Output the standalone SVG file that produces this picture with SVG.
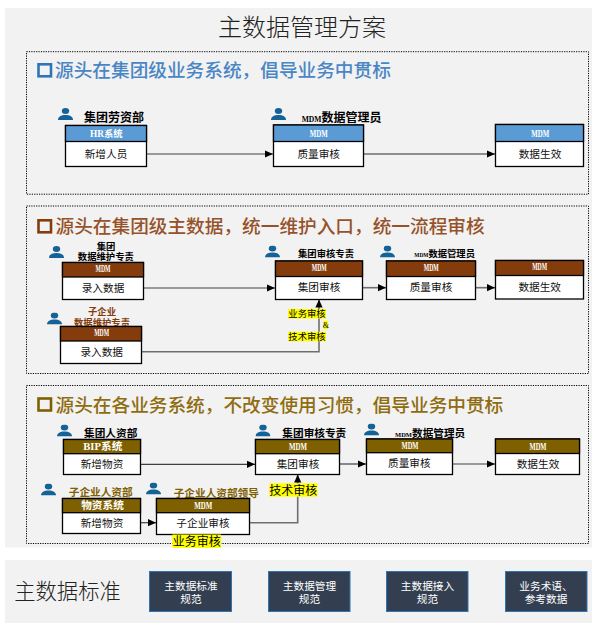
<svg xmlns="http://www.w3.org/2000/svg" width="596" height="631" viewBox="0 0 596 631">
<style>
text{font-family:"Liberation Serif","Noto Sans CJK SC",serif;text-anchor:middle}
.panel{fill:#f2f2f2}
.frame{fill:none;stroke:#000;stroke-width:1;stroke-dasharray:1.2 1.2}
.title{font-size:24px;fill:#222;font-weight:300}
.h{font-size:18.67px;font-weight:500;text-anchor:start}
.sq{fill:none;stroke-width:2.6}
.box{fill:#fff;stroke:#000;stroke-width:1.3}
.b{fill:#5b9bd5}.r{fill:#843c0c}.g{fill:#7f6000}
.hd{stroke:#000;stroke-width:1.3}
.ht{font-size:9.33px;font-weight:700;fill:#fff}
.ht2{font-size:10.67px;font-weight:700;fill:#fff}
.t{font-size:10.67px;fill:#111}
.l12{font-size:12px;font-weight:700;fill:#000}
.l10{font-size:10.67px;font-weight:700}
.l9{font-size:9.33px;font-weight:700}
.st{text-anchor:start}
.lk{fill:none;stroke:#404040;stroke-width:1.2;marker-end:url(#a)}
.lk2{fill:none;stroke:#6e6e6e;stroke-width:1.6;marker-end:url(#a)}
.y{fill:#ffff00}
.btn{fill:#333f50;stroke:#2e75b6;stroke-width:1}
.bt{font-size:10.67px;fill:#fff}
.p{fill:#156299}
</style>
<defs>
<marker id="a" markerUnits="userSpaceOnUse" markerWidth="8" markerHeight="8" refX="8" refY="4" orient="auto"><path d="M0 .4L8 4L0 7.6Z" fill="#000"/></marker>
<symbol id="person" viewBox="0 0 15 12" width="15" height="12"><ellipse cx="7.5" cy="3" rx="3.7" ry="3"/><path d="M0 12C0 8.5 3 7 7.5 7S15 8.5 15 12Z"/></symbol>
</defs>
<rect class="panel" x="5" y="8" width="587" height="539.500"/>
<rect class="panel" x="5" y="560" width="587" height="63"/>
<text class="title" x="302" y="36">主数据管理方案</text>
<g id="section1">
<rect class="frame" x="26.500" y="51.700" width="562" height="142.500"/>
<rect class="sq" x="38.500" y="64.300" width="12.500" height="12" stroke="#2e75b6"/>
<text class="h" x="55" y="76.500" fill="#4a86c5">源头在集团级业务系统，倡导业务中贯标</text>
</g>
<g id="section2">
<rect class="frame" x="26.500" y="206" width="562" height="167.500"/>
<rect class="sq" x="38.500" y="220.300" width="12.500" height="12" stroke="#843c0c"/>
<text class="h" x="55.500" y="233" fill="#96522a">源头在集团级主数据，统一维护入口，统一流程审核</text>
</g>
<g id="section3">
<rect class="frame" x="26.500" y="385.500" width="562" height="158"/>
<rect class="sq" x="38.500" y="398.500" width="12.500" height="12" stroke="#7f6000"/>
<text class="h" x="55.500" y="411.700" fill="#8f6c10">源头在各业务系统，不改变使用习惯，倡导业务中贯标</text>
</g>
<g id="connectors">
<path class="lk" d="M146.700 154H273"/>
<path class="lk2" d="M364 154H495"/>
<path class="lk" d="M143.700 288H275"/>
<path class="lk2" d="M141.700 351.700H319V299.500"/>
<path class="lk2" d="M362.700 287.700H386"/>
<path class="lk2" d="M475.700 287.700H495"/>
<path class="lk" d="M140.300 464.300H255"/>
<path class="lk" d="M140.700 522.700H156"/>
<path class="lk2" d="M249.700 522.700H297.700V474.500"/>
<path class="lk" d="M339.700 464H366"/>
<path class="lk" d="M452.700 464H495"/>
</g>
<g id="persons" class="p">
<use href="#person" x="58" y="108"/><use href="#person" x="271" y="108"/>
<use href="#person" x="49" y="246"/><use href="#person" x="47" y="312.500"/><use href="#person" x="265" y="245.500"/><use href="#person" x="380" y="245.500"/>
<use href="#person" x="57" y="424.500"/><use href="#person" x="255.500" y="424.500"/><use href="#person" x="364" y="423.500"/><use href="#person" x="41" y="483.500"/><use href="#person" x="146" y="482.500"/>
</g>
<g id="n-hr">
<text class="l12" x="114" y="121.500">集团劳资部</text>
<rect class="box" x="65.500" y="125.500" width="81" height="41"/><rect class="b hd" x="65.500" y="125.500" width="81" height="16"/>
<text class="ht" x="106.300" y="137">HR系统</text><text class="t" x="106" y="158">新增人员</text>
</g>
<g id="n-q1">
<text class="l12 st" x="301.700" y="121.500"><tspan font-size="7.600">MDM</tspan>数据管理员</text>
<rect class="box" x="273.500" y="125" width="90" height="41.500"/><rect class="b hd" x="273.500" y="125" width="90" height="16.500"/>
<text class="ht" x="318.700" y="137" textLength="18" lengthAdjust="spacingAndGlyphs">MDM</text><text class="t" x="318.700" y="158">质量审核</text>
</g>
<g id="n-e1">
<rect class="box" x="495.500" y="124.500" width="88" height="42"/><rect class="b hd" x="495.500" y="124.500" width="88" height="17"/>
<text class="ht" x="540.300" y="137" textLength="18" lengthAdjust="spacingAndGlyphs">MDM</text><text class="t" x="540" y="158">数据生效</text>
</g>
<g id="n-a2">
<text class="l9" x="106" y="249.500">集团</text><text class="l9" x="105.800" y="260">数据维护专责</text>
<rect class="box" x="62.500" y="262.500" width="81" height="37"/><rect class="r hd" x="62.500" y="262.500" width="81" height="14.500"/>
<text class="ht" x="103" y="271.500" textLength="15" lengthAdjust="spacingAndGlyphs">MDM</text><text class="t" x="103" y="292">录入数据</text>
</g>
<g id="n-b2">
<text class="l9" x="102" y="315" fill="#843c0c">子企业</text><text class="l9" x="102" y="325.700" fill="#843c0c">数据维护专责</text>
<rect class="box" x="60.500" y="326.500" width="81" height="37"/><rect class="r hd" x="60.500" y="326.500" width="81" height="14.500"/>
<text class="ht" x="101.700" y="335.500" textLength="15" lengthAdjust="spacingAndGlyphs">MDM</text><text class="t" x="101.700" y="356">录入数据</text>
</g>
<g id="n-c2">
<text class="l9" x="326" y="257.300">集团审核专责</text>
<rect class="box" x="275.500" y="261" width="87" height="38.500"/><rect class="r hd" x="275.500" y="261" width="87" height="15.500"/>
<text class="ht" x="319.300" y="270.500" textLength="15" lengthAdjust="spacingAndGlyphs">MDM</text><text class="t" x="319" y="291">集团审核</text>
</g>
<g id="n-d2">
<text class="l9 st" x="414.300" y="257.300"><tspan font-size="5.400">MDM</tspan>数据管理员</text>
<rect class="box" x="386.500" y="261" width="89" height="38.500"/><rect class="r hd" x="386.500" y="261" width="89" height="15.500"/>
<text class="ht" x="431.300" y="270.500" textLength="15" lengthAdjust="spacingAndGlyphs">MDM</text><text class="t" x="431" y="291">质量审核</text>
</g>
<g id="n-e2">
<rect class="box" x="495.500" y="260.500" width="88" height="38.500"/><rect class="r hd" x="495.500" y="260.500" width="88" height="15"/>
<text class="ht" x="539.700" y="269.500" textLength="15" lengthAdjust="spacingAndGlyphs">MDM</text><text class="t" x="539.700" y="291">数据生效</text>
</g>
<g id="tags2">
<rect class="y" x="288" y="309" width="38" height="9.500"/><text class="l9" style="font-weight:400" x="307" y="317.300">业务审核</text>
<rect class="y" x="323.500" y="320.700" width="4.500" height="8.600"/><text x="325.800" y="328" style="font-size:8px">&amp;</text>
<rect class="y" x="288" y="331.700" width="38" height="9.500"/><text class="l9" style="font-weight:400" x="307" y="340">技术审核</text>
</g>
<g id="n-a3">
<text class="l10" x="110.700" y="437">集团人资部</text>
<rect class="box" x="63.500" y="439.500" width="77" height="35"/><rect class="g hd" x="63.500" y="439.500" width="77" height="14.200"/>
<text class="ht2" x="102.800" y="450">BIP系统</text><text class="t" x="102" y="468">新增物资</text>
</g>
<g id="n-b3">
<text class="l10" x="100.700" y="495.700" fill="#7f6000">子企业人资部</text>
<rect class="box" x="62.500" y="498.500" width="78" height="35"/><rect class="g hd" x="62.500" y="498.500" width="78" height="14.200"/>
<text class="ht2" x="102.500" y="509">物资系统</text><text class="t" x="102" y="527">新增物资</text>
</g>
<g id="n-c3">
<text class="l10" x="216.300" y="497" fill="#7f6000">子企业人资部领导</text>
<rect class="box" x="156.500" y="498.500" width="93" height="36"/><rect class="g hd" x="156.500" y="498.500" width="93" height="14.200"/>
<text class="ht" x="203.300" y="509" textLength="18" lengthAdjust="spacingAndGlyphs">MDM</text><text class="t" x="203" y="527">子企业审核</text>
</g>
<g id="n-d3">
<text class="l10" x="314.300" y="437">集团审核专责</text>
<rect class="box" x="255.500" y="439.500" width="84" height="35"/><rect class="g hd" x="255.500" y="439.500" width="84" height="14.200"/>
<text class="ht" x="298" y="450" textLength="18" lengthAdjust="spacingAndGlyphs">MDM</text><text class="t" x="298" y="468">集团审核</text>
</g>
<g id="n-e3">
<text class="l10 st" x="395" y="436.500"><tspan font-size="6.500">MDM</tspan>数据管理员</text>
<rect class="box" x="366.500" y="439" width="86" height="35.500"/><rect class="g hd" x="366.500" y="439" width="86" height="13.700"/>
<text class="ht" x="410" y="449" textLength="17" lengthAdjust="spacingAndGlyphs">MDM</text><text class="t" x="409.300" y="467">质量审核</text>
</g>
<g id="n-f3">
<rect class="box" x="495.500" y="439" width="84" height="35.500"/><rect class="g hd" x="495.500" y="439" width="84" height="14.500"/>
<text class="ht" x="538" y="449.500" textLength="17" lengthAdjust="spacingAndGlyphs">MDM</text><text class="t" x="538" y="468">数据生效</text>
</g>
<g id="tags3">
<rect class="y" x="269.300" y="483.300" width="48" height="13.400"/><text x="293.300" y="494.500" style="font-size:12px">技术审核</text>
<rect class="y" x="172.300" y="534.500" width="48.700" height="13.500"/><text x="196.700" y="545.800" style="font-size:12px">业务审核</text>
</g>
<g id="standards">
<text x="67.500" y="599" style="font-size:21.33px;font-weight:300;fill:#222">主数据标准</text>
<g id="s1"><rect class="btn" x="149.500" y="571.500" width="82" height="40"/><text class="bt" x="191" y="589.500">主数据标准</text><text class="bt" x="191" y="602.500">规范</text></g>
<g id="s2"><rect class="btn" x="268.500" y="571.500" width="81.500" height="40"/><text class="bt" x="309.500" y="589.500">主数据管理</text><text class="bt" x="309.500" y="602.500">规范</text></g>
<g id="s3"><rect class="btn" x="386.500" y="571.500" width="81.500" height="40"/><text class="bt" x="427.500" y="589.500">主数据接入</text><text class="bt" x="427.500" y="602.500">规范</text></g>
<g id="s4"><rect class="btn" x="505.500" y="571.500" width="81.500" height="40"/><text class="bt" x="546" y="589.500">业务术语、</text><text class="bt" x="546" y="602.500">参考数据</text></g>
</g>
</svg>
